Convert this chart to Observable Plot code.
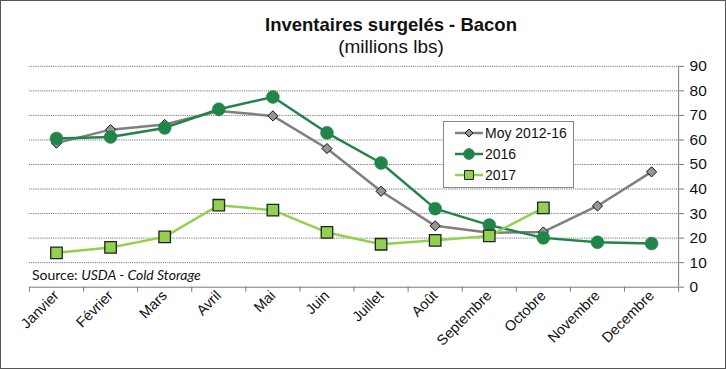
<!DOCTYPE html>
<html>
<head>
<meta charset="utf-8">
<script src="https://cdn.jsdelivr.net/npm/d3@7"></script>
<script src="https://cdn.jsdelivr.net/npm/@observablehq/plot@0.6"></script>
<style>
  html, body { margin: 0; padding: 0; background: #fff; }
  #chart { position: relative; width: 726px; height: 369px; box-sizing: border-box; border: 1.5px solid #555; overflow: hidden; font-family: "Liberation Sans", Arial, sans-serif; }
  #chart svg.plot { position: absolute; left: -1.5px; top: -1.5px; }
  .title { position: absolute; left: 0; width: 780px; text-align: center; font-weight: bold; font-size: 18.5px; top: 13px; color: #111; white-space: nowrap; }
  .subtitle { position: absolute; left: 0; width: 780px; text-align: center; font-size: 19px; top: 35px; color: #111; white-space: nowrap; }
  .source { position: absolute; left: 31px; top: 265px; font-family: Lato, "Open Sans", sans-serif; font-size: 14px; color: #111; white-space: nowrap; }
  .legend { position: absolute; left: 442px; top: 120px; width: 131px; height: 67px; box-sizing: border-box; border: 1px solid #888; background: #fff; }
  .legend .row { position: absolute; left: 10px; height: 20px; display: flex; align-items: center; font-size: 14px; color: #111; white-space: nowrap; }
  .legend svg { display: block; }
</style>
</head>
<body>
<div id="chart"></div>
<script>
const months = ["Janvier","Février","Mars","Avril","Mai","Juin","Juillet","Août","Septembre","Octobre","Novembre","Decembre"];
const seriesNames = ["Moy 2012-16", "2016", "2017"];
const moy = [58.7, 64.2, 66.3, 71.8, 69.8, 56.5, 39.1, 25.0, 22.2, 22.5, 33.1, 47.0];
const y2016 = [60.6, 61.2, 64.9, 72.5, 77.5, 62.9, 50.6, 32.0, 25.3, 20.1, 18.3, 17.8];
const y2017 = [14.0, 16.2, 20.5, 33.4, 31.4, 22.3, 17.5, 19.1, 20.9, 32.3];
const yTicks = [0, 10, 20, 30, 40, 50, 60, 70, 80, 90];

const colMoyLine = "#7f7f7f", colMoyFill = "#969696";
const col2016 = "#21854a";
const col2017 = "#92d050";

const toRows = (vals) => vals.map((v, i) => ({month: months[i], idx: i + 0.5, v}));
const rMoy = toRows(moy), r2016 = toRows(y2016), r2017 = toRows(y2017);
const boundaries = d3.range(0, months.length + 1);
const centers = months.map((m, i) => i + 0.5);

const font = `"Liberation Sans", Arial, sans-serif`;

const plot = Plot.plot({
  width: 726, height: 369,
  marginLeft: 28, marginRight: 47, marginTop: 65, marginBottom: 82.5,
  style: {fontFamily: font, background: "transparent", overflow: "visible"},
  x: {type: "linear", domain: [0, 12], axis: null},
  y: {domain: [0, 90], axis: null},
  marks: [
    Plot.gridY(yTicks.filter(d => d > 0), {stroke: "#777", strokeOpacity: 1, strokeDasharray: "1.2,1", strokeWidth: 1}),
    Plot.ruleY([0], {stroke: "#777", strokeWidth: 1}),
    Plot.ruleX([12], {stroke: "#777", strokeWidth: 1}),
    Plot.axisY({anchor: "right", ticks: yTicks, tickSize: 5, tickPadding: 6, stroke: "#777", fontSize: 15.5, fill: "#111", textAnchor: "start", label: null}),
    Plot.axisX({ticks: boundaries, tickSize: 5, stroke: "#777", text: null, label: null}),
    Plot.axisX({ticks: centers, tickSize: 0, tickPadding: 6, tickFormat: (d) => months[Math.floor(d)], tickRotate: -45, fontSize: 14.5, fill: "#111", label: null}),
    Plot.line(rMoy, {x: "idx", y: "v", stroke: colMoyLine, strokeWidth: 2.5}),
    Plot.line(r2016, {x: "idx", y: "v", stroke: col2016, strokeWidth: 2.5}),
    Plot.line(r2017, {x: "idx", y: "v", stroke: col2017, strokeWidth: 2.5}),
    Plot.dot(rMoy, {x: "idx", y: "v", symbol: "diamond2", r: 4.6, fill: colMoyFill, stroke: "#111", strokeWidth: 1}),
    Plot.dot(r2016, {x: "idx", y: "v", symbol: "circle", r: 6.5, fill: col2016, stroke: col2016, strokeWidth: 0.5}),
    Plot.dot(r2017, {x: "idx", y: "v", symbol: "square", r: 6.5, fill: col2017, stroke: "#222", strokeWidth: 1.3})
  ]
});

const chart = document.getElementById("chart");
chart.appendChild(plot);

const t = document.createElement("div"); t.className = "title"; t.textContent = "Inventaires surgelés - Bacon"; chart.appendChild(t);
const s = document.createElement("div"); s.className = "subtitle"; s.textContent = "(millions lbs)"; chart.appendChild(s);
const src = document.createElement("div"); src.className = "source"; src.innerHTML = "Source: <i>USDA - Cold Storage</i>"; chart.appendChild(src);

// Legend
const legend = document.createElement("div"); legend.className = "legend";
const legendDefs = [
  {name: seriesNames[0], line: colMoyLine, symbol: d3.symbolDiamond2, size: 40, fill: colMoyFill, stroke: "#111"},
  {name: seriesNames[1], line: col2016, symbol: d3.symbolCircle, size: 90, fill: col2016, stroke: col2016},
  {name: seriesNames[2], line: col2017, symbol: d3.symbolSquare, size: 80, fill: col2017, stroke: "#222"}
];
legendDefs.forEach((d, i) => {
  const row = document.createElement("div"); row.className = "row";
  row.style.top = (1 + i * 21) + "px";
  const sv = d3.create("svg").attr("width", 30).attr("height", 20);
  sv.append("line").attr("x1", 1).attr("x2", 29).attr("y1", 10).attr("y2", 10).attr("stroke", d.line).attr("stroke-width", 2.5);
  sv.append("path").attr("d", d3.symbol(d.symbol, d.size)()).attr("transform", "translate(15,10)").attr("fill", d.fill).attr("stroke", d.stroke).attr("stroke-width", 1);
  row.appendChild(sv.node());
  const lbl = document.createElement("span"); lbl.textContent = d.name; lbl.style.marginLeft = "1px";
  row.appendChild(lbl);
  legend.appendChild(row);
});
chart.appendChild(legend);
</script>
</body>
</html>
